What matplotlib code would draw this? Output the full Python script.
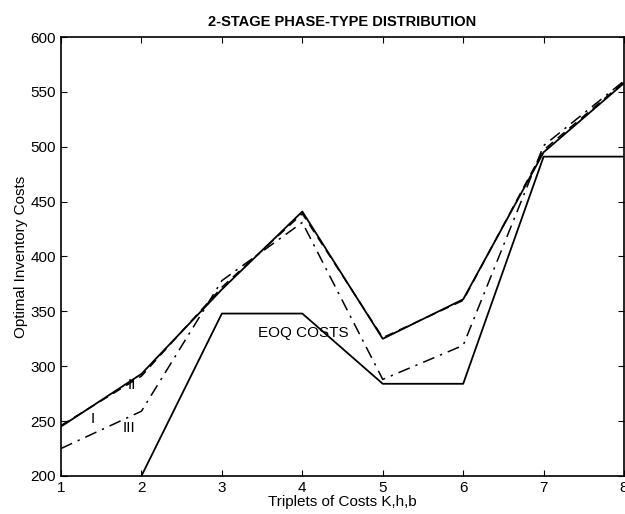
import matplotlib.pyplot as plt

plt.rcParams['font.family'] = ['Liberation Sans', 'DejaVu Sans']

triplets = [1, 2, 3, 4, 5, 6, 7, 8]
cost_I = [245, 293, 370, 441, 325, 361, 495, 558]
cost_II = [246, 291, 372, 439, 326, 360, 497, 559]
cost_III = [225, 259, 378, 431, 288, 319, 501, 560]
eoq_x = [2, 3, 4, 5, 6, 7, 8]
eoq_cost = [200, 348, 348, 284, 284, 491, 491]

fig = plt.figure(figsize=(6.25, 5.14), dpi=100)
ax = fig.add_axes([0.0976, 0.074, 0.9009, 0.854])

ax.plot(triplets, cost_I, color='black', lw=1.3)
ax.plot(triplets, cost_II, color='black', lw=1.1, linestyle=(0, (6, 4)))
ax.plot(triplets, cost_III, color='black', lw=1.1, linestyle=(0, (8, 4, 1.5, 4)))
ax.plot(eoq_x, eoq_cost, color='black', lw=1.3)

ax.text(3.45, 330, 'EOQ COSTS', fontsize=11, va='center', ha='left')
ax.text(1.40, 252, 'I', fontsize=11, va='center', ha='center')
ax.text(1.88, 283, 'II', fontsize=11, va='center', ha='center')
ax.text(1.84, 244, 'III', fontsize=11, va='center', ha='center')

ax.set_xlim(1, 8)
ax.set_ylim(200, 600)
ax.set_xticks(triplets)
ax.set_yticks(range(200, 601, 50))
ax.tick_params(direction='in', top=True, right=True, labelsize=11, length=4)
for s in ax.spines.values():
    s.set_linewidth(1.2)

ax.set_title('2-STAGE PHASE-TYPE DISTRIBUTION', fontsize=10.5, fontweight='bold', pad=8)
ax.set_xlabel('Triplets of Costs K,h,b', fontsize=11, labelpad=0)
ax.set_ylabel('Optimal Inventory Costs', fontsize=11, labelpad=2)

fig.savefig('out.png', dpi=100)
